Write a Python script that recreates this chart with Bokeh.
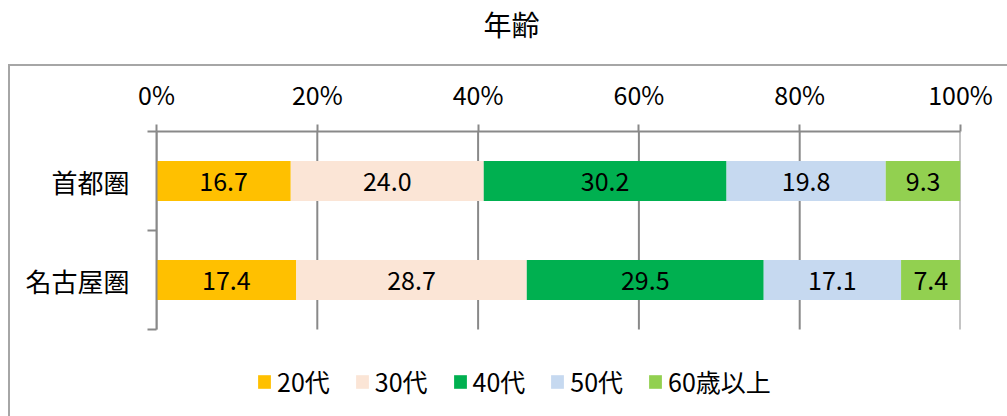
from bokeh.plotting import figure
from bokeh.models import ColumnDataSource, Range1d, FixedTicker
from bokeh.core.properties import value
from bokeh.embed import file_html
from bokeh.resources import INLINE

# ---- data ----
title_text = "年齢"
categories = ["首都圏", "名古屋圏"]
age_groups = ["20代", "30代", "40代", "50代", "60歳以上"]
shutoken = [16.7, 24.0, 30.2, 19.8, 9.3]
nagoya = [17.4, 28.7, 29.5, 17.1, 7.4]
colors = ["#FFC000", "#FBE5D6", "#00B050", "#C6D9F0", "#92D050"]
tick_values = [0, 20, 40, 60, 80, 100]
tick_labels = ["0%", "20%", "40%", "60%", "80%", "100%"]

rows = [shutoken, nagoya]

FONT = "Noto Sans CJK JP"
GRAY = "#898989"
BORDER = "#A6A6A6"
W, H = 1007, 416
FL, FR, FT = 156, 960, 131      # frame edges in canvas px
BAND = 99.0                      # px per category band
n = len(categories)
y_low = -(H - (FT + n * BAND)) / BAND   # extra room below the bars for the legend

p = figure(width=W, height=H, x_range=Range1d(0, 100), y_range=Range1d(y_low, n),
           x_axis_location="above", output_backend="svg", toolbar_location=None,
           min_border_left=FL, min_border_right=W - FR, min_border_top=FT, min_border_bottom=0)
p.outline_line_color = None
p.background_fill_color = None
p.border_fill_color = None
# outer chart-area border (top and left edges visible in the crop)
p.styles = {
    "background-color": "white",
    "background-image": f"linear-gradient({BORDER}, {BORDER}), linear-gradient({BORDER}, {BORDER})",
    "background-size": "2px 2000px, 2000px 2px",
    "background-position": "8px 64px, 8px 64px",
    "background-repeat": "no-repeat",
}

# vertical gridlines (behind the bars), spanning only the category area
p.segment(x0=tick_values, y0=[0] * len(tick_values), x1=tick_values, y1=[n] * len(tick_values),
          line_color=GRAY, line_width=2)

for j, grp in enumerate(age_groups):
    lefts, rights, ys, labels, xc = [], [], [], [], []
    for i, row in enumerate(rows):
        tot = sum(row)
        l = sum(row[:j]) / tot * 100
        r = sum(row[:j + 1]) / tot * 100
        lefts.append(l)
        rights.append(r)
        ys.append(n - i - 0.5)
        labels.append(f"{row[j]:.1f}")
        xc.append((l + r) / 2)
    src = ColumnDataSource(dict(left=lefts, right=rights, y=ys, label=labels, xc=xc))
    p.hbar(y="y", left="left", right="right", height=0.404, source=src,
           fill_color=colors[j], line_color=None, legend_label=grp)
    p.text(x="xc", y="y", text="label", source=src, text_font=value(FONT),
           text_font_size="25px", text_align="center", text_baseline="middle",
           text_color="black")

# title
p.title.text = title_text
p.title.align = "left"
p.title.offset = 327
p.title.text_font = FONT
p.title.text_font_size = "28px"
p.title.text_font_style = "normal"
p.title.text_color = "black"
p.title.standoff = 0
p.title.vertical_align = "top"

# x axis (top)
xa = p.xaxis[0]
xa.ticker = FixedTicker(ticks=tick_values)
xa.major_label_overrides = {v: t for v, t in zip(tick_values, tick_labels)}
xa.major_tick_out = 7
xa.major_tick_in = 0
xa.minor_tick_line_color = None
xa.axis_line_color = GRAY
xa.axis_line_width = 2
xa.major_tick_line_color = GRAY
xa.major_tick_line_width = 2
xa.major_label_text_font = FONT
xa.major_label_text_font_size = "25px"
xa.major_label_text_color = "black"
xa.major_label_standoff = 13
# invisible axis label used only as spacing between tick labels and title
xa.axis_label = " "
xa.axis_label_text_font_size = "2px"
xa.axis_label_text_alpha = 0
xa.axis_label_standoff = 22

# y axis (categories)
ya = p.yaxis[0]
ya.bounds = (0, n)
ya.ticker = FixedTicker(ticks=[n - i - 0.5 for i in range(n)], minor_ticks=list(range(n + 1)))
ya.major_label_overrides = {n - i - 0.5: c for i, c in enumerate(categories)}
ya.major_tick_line_color = None
ya.major_tick_out = 0
ya.major_tick_in = 0
ya.minor_tick_out = 9
ya.minor_tick_in = 0
ya.minor_tick_line_color = GRAY
ya.minor_tick_line_width = 2
ya.axis_line_color = GRAY
ya.axis_line_width = 2
ya.major_label_text_font = FONT
ya.major_label_text_font_size = "26px"
ya.major_label_text_color = "black"
ya.major_label_standoff = 18

p.xgrid.visible = False
p.ygrid.visible = False

lg = p.legend[0]
lg.orientation = "horizontal"
lg.location = (100, 17)
lg.glyph_width = 16
lg.glyph_height = 17
lg.label_standoff = 5
lg.spacing = 24
lg.padding = 0
lg.margin = 0
lg.border_line_color = None
lg.background_fill_alpha = 0
lg.label_text_font = FONT
lg.label_text_font_size = "25px"
lg.label_text_color = "black"

open("out.html", "w").write(file_html(p, INLINE))
